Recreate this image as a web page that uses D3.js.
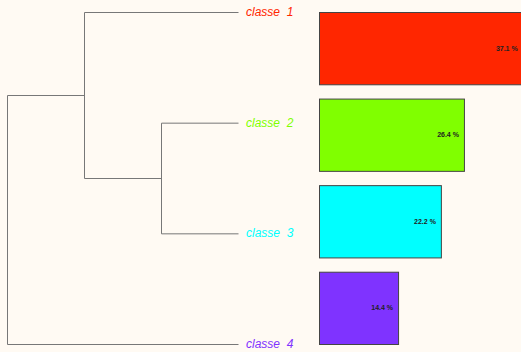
<!DOCTYPE html>
<html><head><meta charset="utf-8">
<script src="https://cdn.jsdelivr.net/npm/d3@7"></script>
<style>html,body{margin:0;padding:0;background:#fffaf3;}svg{display:block;}</style>
</head><body>
<svg id="c" width="521" height="352"></svg>
<script>
const classes = ["classe  1", "classe  2", "classe  3", "classe  4"];
const colors = ["#ff2600", "#80ff00", "#00ffff", "#7f33ff"];
const percents = [37.1, 26.4, 22.2, 14.4];
const pctLabels = ["37.1 %", "26.4 %", "22.2 %", "14.4 %"];
// dendrogram: merges with heights
const tree = {h: 3, children: [
  {h: 2, children: [{leaf: 0, h: 0}, {h: 1, children: [{leaf: 1, h: 0}, {leaf: 2, h: 0}]}]},
  {leaf: 3, h: 0}
]};

const svg = d3.select("#c");
const W = 521, H = 352;
svg.append("rect").attr("width", W).attr("height", H).attr("fill", "#fffaf3");

const xH = d3.scaleLinear().domain([3, 0]).range([7, 238]);
const yLeaf = d3.scalePoint().domain(d3.range(classes.length)).range([12, 344]);

const root = d3.hierarchy(tree);
root.eachAfter(n => {
  n.py = n.data.leaf !== undefined ? yLeaf(n.data.leaf) : d3.mean(n.children, c => c.py);
});
const g = svg.append("g").attr("fill", "none").attr("stroke", "#777").attr("stroke-width", 1);
root.each(n => {
  if (!n.children) return;
  const x0 = xH(n.data.h);
  const ys = n.children.map(c => c.py);
  g.append("line").attr("x1", x0 + 0.5).attr("x2", x0 + 0.5)
    .attr("y1", d3.min(ys) + 0.5).attr("y2", d3.max(ys) + 0.5);
  n.children.forEach(c => {
    g.append("line").attr("x1", x0 + 0.5).attr("x2", xH(c.data.h) + 0.5)
      .attr("y1", c.py + 0.5).attr("y2", c.py + 0.5);
  });
});

svg.selectAll("text.lab").data(classes).join("text").attr("class", "lab")
  .attr("x", 246).attr("y", (d, i) => yLeaf(i) + 4)
  .attr("font-family", "Liberation Sans, Arial, sans-serif").attr("font-style", "italic")
  .attr("font-size", 12).attr("fill", (d, i) => colors[i]).attr("xml:space", "preserve")
  .text(d => d);

const xB = d3.scaleLinear().domain([0, 10]).range([319, 319 + 54.9]);
const yB = d3.scaleBand().domain(d3.range(classes.length)).range([12, 344]).paddingInner(0.165);
svg.selectAll("rect.bar").data(percents).join("rect").attr("class", "bar")
  .attr("x", xB(0) + 0.5).attr("y", (d, i) => yB(i) + 0.5)
  .attr("width", d => xB(d) - xB(0)).attr("height", yB.bandwidth())
  .attr("fill", (d, i) => colors[i]).attr("stroke", "#444").attr("stroke-width", 1);
svg.selectAll("text.pct").data(percents).join("text").attr("class", "pct")
  .attr("x", d => xB(d) - 5).attr("y", (d, i) => yB(i) + yB.bandwidth() / 2 + 2.5)
  .attr("text-anchor", "end").attr("font-family", "Liberation Sans, Arial, sans-serif")
  .attr("font-weight", "bold").attr("font-size", 7).attr("fill", "#222")
  .text((d, i) => pctLabels[i]);
</script>
</body></html>
